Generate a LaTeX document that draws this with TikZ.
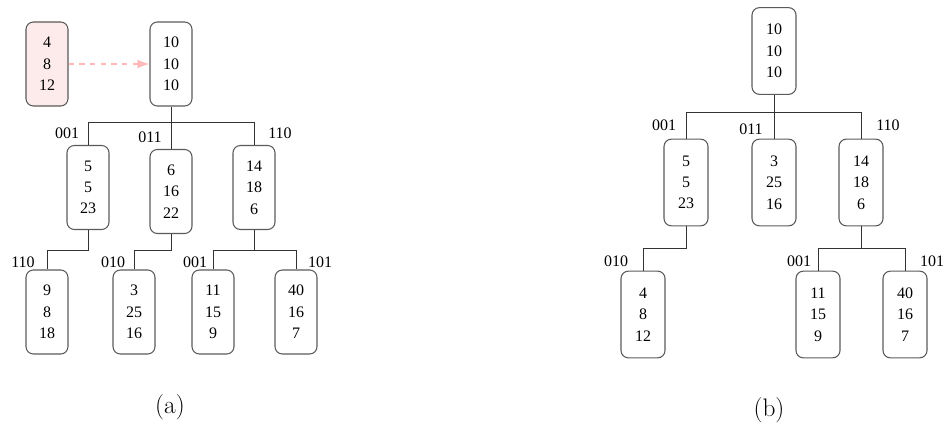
\documentclass[tikz,border=0pt]{standalone}
\usepackage{fontspec}
\newfontfamily\timesfont{Liberation Serif}
\usetikzlibrary{arrows.meta}

\definecolor{boxline}{HTML}{5A5A5A}
\definecolor{treeline}{HTML}{333333}
\definecolor{pinkfill}{HTML}{FDEAEA}
\definecolor{pinkline}{HTML}{FFB8B8}

\begin{document}
\begin{tikzpicture}[x=0.75pt,y=-0.75pt]
\tikzstyle{box} = [draw=boxline, line width=0.8pt, rounded corners=5.5pt, minimum width=31.5pt, minimum height=63pt, inner sep=0pt, align=center, font=\timesfont\fontsize{12}{16}\selectfont]
\tikzstyle{bigbox} = [box, minimum width=33pt, minimum height=65pt]
\tikzstyle{lbl} = [inner sep=0pt, font=\timesfont\fontsize{12}{13}\selectfont]
\tikzstyle{edge} = [draw=treeline, line width=0.65pt]

\useasboundingbox (0,0) rectangle (944,428);

% (a) tree before the update
\node[box, fill=pinkfill] (p) at (47,64) {4\\8\\12};
\node[box] (ra) at (171,64) {10\\10\\10};
\draw[pinkline, line width=0.9pt, dash pattern=on 4pt off 4pt, -{Latex[length=9pt,width=6.5pt]}] (p.east) -- (ra.west);

\node[box] (a1) at (88,187.5) {5\\5\\23};
\node[box] (a2) at (171,191.5) {6\\16\\22};
\node[box] (a3) at (254,187.5) {14\\18\\6};
\node[box] (a11) at (47,312) {9\\8\\18};
\node[box] (a21) at (134,312) {3\\25\\16};
\node[box] (a31) at (213,312) {11\\15\\9};
\node[box] (a32) at (296,312) {40\\16\\7};

\coordinate (ja) at (171,122);
\coordinate (ka) at (88,250);
\coordinate (la) at (171,250);
\coordinate (ma) at (254,250);
\draw[edge] (ra.south) -- (ja) -| (a1.north);
\draw[edge] (ja) -| (a3.north);
\draw[edge] (ja) -- (a2.north);
\draw[edge] (a1.south) -- (ka) -| (a11.north);
\draw[edge] (a2.south) -- (la) -| (a21.north);
\draw[edge] (a3.south) -- (ma) -| (a31.north);
\draw[edge] (ma) -| (a32.north);

\node[lbl] (la1) at (67,133) {001};
\node[lbl] (la2) at (150,137) {011};
\node[lbl] (la3) at (280,133) {110};
\node[lbl] (la11) at (23,262) {110};
\node[lbl] (la21) at (113,262) {010};
\node[lbl] (la31) at (195,262) {001};
\node[lbl] (la32) at (320,262) {101};

\node[font=\fontsize{19}{21}\selectfont] (capa) at (170,407) {(a)};

% (b) tree after the update
\node[bigbox] (rb) at (774,51) {10\\10\\10};
\node[bigbox] (b1) at (686,182.5) {5\\5\\23};
\node[bigbox] (b2) at (774,182.5) {3\\25\\16};
\node[bigbox] (b3) at (861,182.5) {14\\18\\6};
\node[bigbox] (b11) at (643,314.5) {4\\8\\12};
\node[bigbox] (b31) at (818,314.5) {11\\15\\9};
\node[bigbox] (b32) at (905,314.5) {40\\16\\7};

\coordinate (jb) at (774,112);
\coordinate (kb) at (686,248);
\coordinate (mb) at (861,248);
\draw[edge] (rb.south) -- (jb) -| (b1.north);
\draw[edge] (jb) -| (b3.north);
\draw[edge] (jb) -- (b2.north);
\draw[edge] (b1.south) -- (kb) -| (b11.north);
\draw[edge] (b3.south) -- (mb) -| (b31.north);
\draw[edge] (mb) -| (b32.north);

\node[lbl] (lb1) at (664,125) {001};
\node[lbl] (lb2) at (751,129) {011};
\node[lbl] (lb3) at (888,125) {110};
\node[lbl] (lb11) at (616,261) {010};
\node[lbl] (lb31) at (799,261) {001};
\node[lbl] (lb32) at (932,261) {101};

\node[font=\fontsize{19}{21}\selectfont] (capb) at (769,410) {(b)};

\end{tikzpicture}
\end{document}
